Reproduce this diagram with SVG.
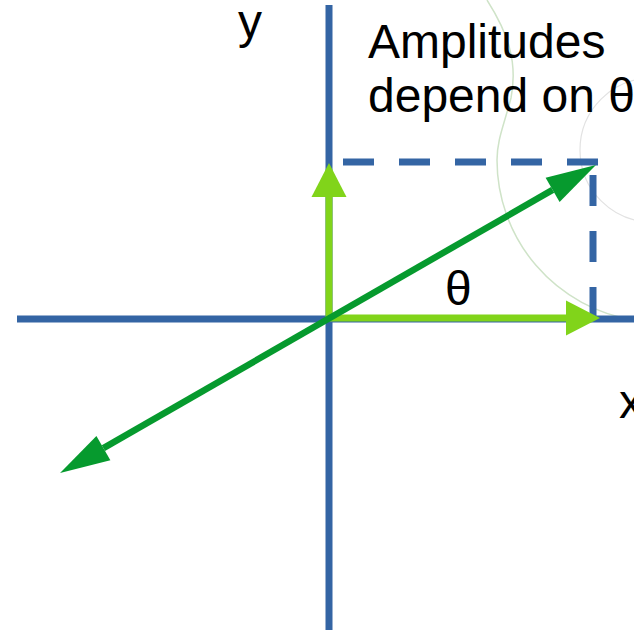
<svg xmlns="http://www.w3.org/2000/svg" width="634" height="630" viewBox="0 0 634 630">
  <style>
    .axis { stroke: #3465a4; stroke-width: 7; fill: none; }
    .dash { stroke: #3465a4; stroke-width: 7; fill: none; stroke-dasharray: 31 25; }
    .light { stroke: #81d41a; stroke-width: 7; fill: none; }
    .dark { stroke: #069a2e; stroke-width: 6.5; fill: none; }
    .label { font-family: "Liberation Sans", Arial, sans-serif; font-size: 48px; fill: #000000; }
    .faint-green { stroke: #cfe3c8; stroke-width: 1.5; fill: none; }
    .faint-gray { stroke: #e2e2e2; stroke-width: 1.2; fill: none; }
  </style>
  <defs>
    <marker id="headLight" markerUnits="userSpaceOnUse" markerWidth="34" markerHeight="35" refX="0" refY="17.5" orient="auto" overflow="visible">
      <path d="M0,0 L34,17.5 L0,35 Z" fill="#81d41a"/>
    </marker>
    <marker id="headDark" markerUnits="userSpaceOnUse" markerWidth="50" markerHeight="28" refX="0" refY="14" orient="auto-start-reverse" overflow="visible">
      <path d="M0,0 L50,14 L0,28 Z" fill="#069a2e"/>
    </marker>
  </defs>
  <rect width="634" height="630" fill="#ffffff"/>

  <g id="decoration">
    <path class="faint-green" d="M487,0 C508,33 518,62 511,98 C504,125 497,140 497,160 A162,162 0 0 0 634,320"/>
    <circle class="faint-gray" cx="652" cy="150" r="72"/>
  </g>

  <g id="connectors">
    <line id="y-axis" class="axis" x1="329" y1="5" x2="329" y2="630"/>
    <line id="x-axis" class="axis" x1="17" y1="319" x2="634" y2="319"/>
    <line id="dash-h" class="dash" x1="343" y1="162" x2="599" y2="162"/>
    <line id="dash-v" class="dash" x1="593" y1="175" x2="593" y2="318"/>
    <line id="comp-y" class="light" x1="329" y1="318" x2="329" y2="197" marker-end="url(#headLight)"/>
    <line id="comp-x" class="light" x1="329" y1="318" x2="566" y2="318" marker-end="url(#headLight)"/>
    <line id="vector" class="dark" x1="103.4" y1="448.1" x2="552.6" y2="189.9" marker-start="url(#headDark)" marker-end="url(#headDark)"/>
  </g>

  <g id="label-y"><text class="label" x="238" y="38">y</text></g>
  <g id="label-x"><text class="label" x="619" y="418">x</text></g>
  <g id="label-theta"><text class="label" x="445" y="305">θ</text></g>
  <g id="label-amplitudes">
    <text class="label" x="368" y="58">Amplitudes</text>
    <text class="label" x="368" y="112">depend on θ</text>
  </g>
</svg>
